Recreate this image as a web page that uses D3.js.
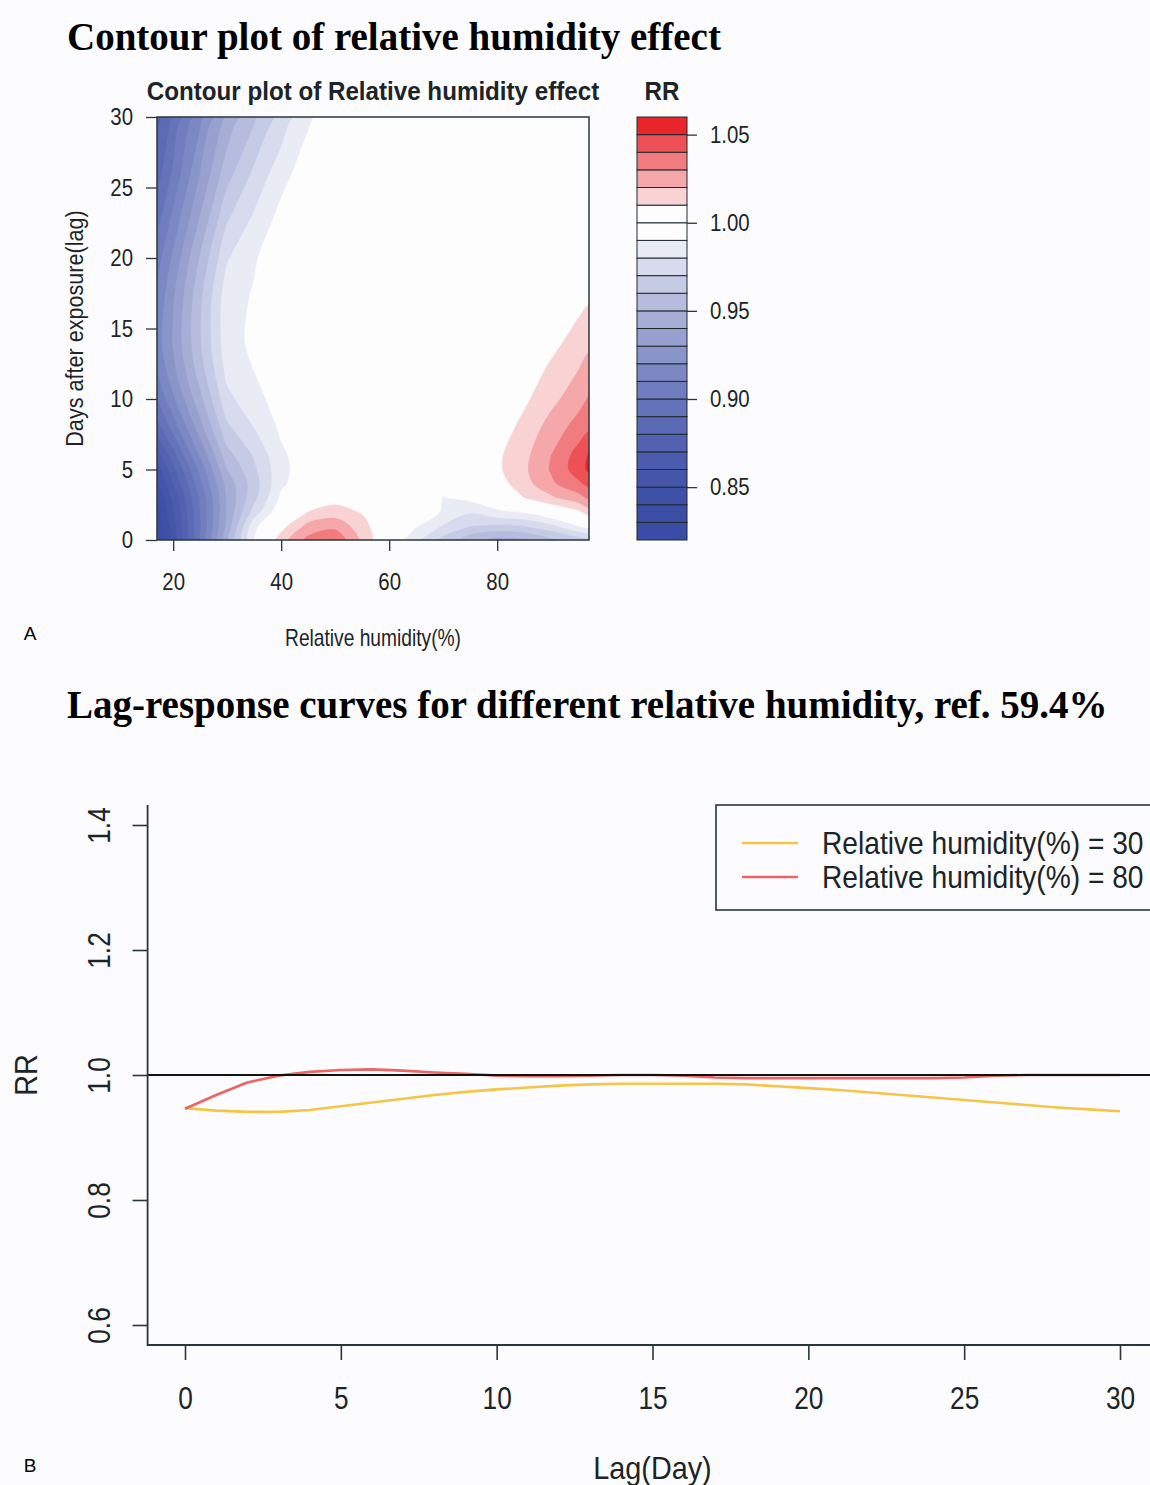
<!DOCTYPE html>
<html>
<head>
<meta charset="utf-8">
<title>Relative humidity effect</title>
<script src="https://cdn.jsdelivr.net/npm/d3@7"></script>
<style>
  html, body { margin: 0; padding: 0; background: #fcfcfe; }
  svg { display: block; }
</style>
</head>
<body>
<svg id="figure" width="1150" height="1485"></svg>
<script>
// ---------------------------------------------------------------
// Panel A: exposure–lag surface of relative risk (RR)
// rows follow lagGrid, columns follow humidity
// ---------------------------------------------------------------
const humidity = [17, 20, 25, 30, 35, 40, 45, 50, 55, 60, 65, 70, 75, 80, 85, 90, 95, 97];
const lagGrid  = [0, 1, 2, 3, 4, 5, 6, 8, 10, 12, 14, 17, 20, 23, 26, 30];
const rrSurface = [
  [0.825, 0.852, 0.898, 0.947, 0.990, 1.015, 1.033, 1.038, 1.017, 0.998, 0.981, 0.966, 0.953, 0.946, 0.948, 0.957, 0.964, 0.966],
  [0.830, 0.856, 0.899, 0.943, 0.987, 1.006, 1.023, 1.027, 1.014, 0.999, 0.991, 0.979, 0.970, 0.968, 0.970, 0.977, 0.990, 0.993],
  [0.835, 0.859, 0.900, 0.941, 0.974, 0.998, 1.010, 1.014, 1.009, 1.000, 0.997, 0.989, 0.981, 0.988, 0.991, 1.000, 1.008, 1.015],
  [0.840, 0.863, 0.902, 0.941, 0.967, 0.992, 1.002, 1.006, 1.004, 1.000, 0.999, 0.9895, 0.993, 0.999, 1.010, 1.018, 1.026, 1.032],
  [0.848, 0.870, 0.907, 0.944, 0.965, 0.988, 0.997, 1.002, 1.002, 1.000, 1.000, 0.996, 0.999, 1.005, 1.016, 1.028, 1.038, 1.043],
  [0.855, 0.877, 0.913, 0.950, 0.968, 0.987, 0.996, 0.999, 1.000, 1.000, 1.000, 1.000, 1.002, 1.008, 1.018, 1.031, 1.045, 1.052],
  [0.865, 0.886, 0.921, 0.956, 0.971, 0.988, 0.996, 0.999, 1.000, 1.000, 1.000, 1.000, 1.002, 1.008, 1.017, 1.030, 1.044, 1.051],
  [0.885, 0.904, 0.936, 0.968, 0.980, 0.992, 0.997, 0.999, 1.000, 1.000, 1.000, 1.000, 1.001, 1.004, 1.013, 1.024, 1.034, 1.038],
  [0.900, 0.918, 0.947, 0.977, 0.987, 0.994, 0.998, 1.000, 1.000, 1.000, 1.000, 1.000, 1.000, 0.999, 1.008, 1.017, 1.026, 1.031],
  [0.910, 0.927, 0.955, 0.983, 0.990, 0.996, 0.999, 1.000, 1.000, 1.000, 1.000, 1.000, 1.000, 0.998, 1.004, 1.012, 1.020, 1.024],
  [0.915, 0.931, 0.959, 0.986, 0.992, 0.997, 1.000, 1.000, 1.000, 1.000, 1.000, 1.000, 0.999, 0.999, 1.002, 1.007, 1.014, 1.018],
  [0.912, 0.929, 0.958, 0.986, 0.991, 0.997, 1.000, 1.000, 1.000, 1.000, 1.000, 0.999, 0.998, 0.996, 0.999, 1.003, 1.007, 1.009],
  [0.905, 0.922, 0.951, 0.979, 0.989, 0.996, 0.999, 1.000, 1.000, 1.000, 1.000, 0.999, 0.997, 0.995, 0.997, 1.000, 1.003, 1.004],
  [0.895, 0.912, 0.940, 0.968, 0.981, 0.993, 0.998, 1.000, 1.000, 1.000, 1.000, 0.999, 0.997, 0.995, 0.997, 0.999, 1.001, 1.001],
  [0.885, 0.902, 0.930, 0.956, 0.972, 0.986, 0.996, 0.999, 1.000, 1.000, 1.000, 1.000, 0.999, 0.999, 0.999, 1.000, 1.000, 1.000],
  [0.875, 0.891, 0.917, 0.942, 0.958, 0.973, 0.988, 0.996, 0.999, 1.000, 1.000, 1.000, 1.000, 1.000, 1.000, 1.000, 1.000, 1.000]
];
// RR levels separating the filled bands
const rrLevels = [0.82, 0.83, 0.84, 0.85, 0.86, 0.87, 0.88, 0.89, 0.90, 0.91, 0.92, 0.93,
                  0.94, 0.95, 0.96, 0.97, 0.98, 0.99, 1.00, 1.01, 1.02, 1.03, 1.04, 1.05, 1.06];
const keyTicks = [0.85, 0.90, 0.95, 1.00, 1.05];
const humidityTicks = [20, 40, 60, 80];
const lagTicksA = [0, 5, 10, 15, 20, 25, 30];

// ---------------------------------------------------------------
// Panel B: lag-response curves, reference humidity 59.4%
// ---------------------------------------------------------------
const lagDays = [0, 1, 2, 3, 4, 5, 6, 7, 8, 9, 10, 11, 12, 13, 14, 15,
                 16, 17, 18, 19, 20, 21, 22, 23, 24, 25, 26, 27, 28, 29, 30];
const rrHumidity30 = [0.947, 0.943, 0.941, 0.941, 0.944, 0.950, 0.956, 0.962, 0.968, 0.973, 0.977,
                      0.980, 0.983, 0.985, 0.986, 0.986, 0.986, 0.986, 0.985, 0.982, 0.979, 0.976,
                      0.972, 0.968, 0.964, 0.960, 0.956, 0.952, 0.948, 0.945, 0.942];
const rrHumidity80 = [0.946, 0.968, 0.988, 0.999, 1.005, 1.008, 1.009, 1.007, 1.004, 1.002, 0.999,
                      0.998, 0.998, 0.999, 1.000, 1.000, 0.999, 0.996, 0.995, 0.995, 0.995, 0.995,
                      0.995, 0.995, 0.995, 0.996, 0.999, 1.000, 1.000, 1.000, 1.000];
const seriesLabels = ['Relative humidity(%) = 30', 'Relative humidity(%) = 80'];
const lagTicksB = [0, 5, 10, 15, 20, 25, 30];
const rrTicksB = [0.6, 0.8, 1.0, 1.2, 1.4];

// ---------------------------------------------------------------
const SANS = "'Liberation Sans', Arial, Helvetica, sans-serif";
const SERIF = "'Liberation Serif', 'Times New Roman', Times, serif";
const INK = '#1c2427';
const AXIS = '#2a363b';
const svg = d3.select('#figure');

function addText(parent, str, x, y, o = {}) {
  return parent.append('text')
    .attr('transform', `translate(${x},${y}) rotate(${o.rot || 0}) scale(${o.sx || 1},1)`)
    .attr('text-anchor', o.anchor || 'middle')
    .attr('font-family', o.family || SANS)
    .attr('font-size', o.size || 16)
    .attr('font-weight', o.weight || 'normal')
    .attr('fill', o.fill || INK)
    .text(str);
}

function styleTicks(g, size, lineW) {
  g.select('.domain').remove();
  g.selectAll('.tick line').attr('stroke', AXIS).attr('stroke-width', lineW);
  g.selectAll('.tick text')
    .attr('font-family', SANS).attr('font-size', size).attr('fill', INK);
}

// ======================= Panel A =======================
addText(svg, 'Contour plot of relative humidity effect', 67, 50,
  { family: SERIF, size: 39, weight: 'bold', anchor: 'start', fill: '#000' });

const xA = d3.scaleLinear().domain([humidity[0], humidity[humidity.length - 1]]).range([157, 589]);
const yA = d3.scaleLinear().domain([lagGrid[0], lagGrid[lagGrid.length - 1]]).range([540, 117]);
const [ax0, ax1] = xA.range();   // left, right
const [ayB, ayT] = yA.range();   // bottom, top

addText(svg, 'Contour plot of Relative humidity effect', (ax0 + ax1) / 2, 100,
  { size: 26, weight: 'bold', sx: 0.93 });

// band colours: blue→white below RR = 1, white→red above
const nBelow = rrLevels.filter(v => v < 1).length;
const nAbove = rrLevels.filter(v => v > 1).length;
const blueRamp = d3.interpolateRgb('#3a4ca5', '#fdfdfe');
const redRamp = d3.interpolateRgb('#fdfdfe', '#e9262c');
const bandColors = [
  ...d3.range(nBelow).map(i => blueRamp(Math.pow(i / (nBelow - 1), 1.7))),
  ...d3.range(nAbove).map(i => redRamp(i / (nAbove - 1)))
];
const bandColor = d3.scaleThreshold().domain(rrLevels.slice(1, -1)).range(bandColors);

// grid index → data coordinates (grid samples sit at index + 0.5)
const nx = humidity.length, ny = lagGrid.length;
const gx = d3.scaleLinear().domain(humidity.map((_, i) => i + 0.5)).range(humidity).clamp(true);
const gy = d3.scaleLinear().domain(lagGrid.map((_, i) => i + 0.5)).range(lagGrid).clamp(true);

const bands = d3.contours()
  .size([nx, ny])
  .thresholds(rrLevels.slice(0, -1))(rrSurface.flat());

// rings are drawn as smooth closed curves; points on the frame are doubled
// so that the curve keeps to the frame there
const ringCurve = d3.line().curve(d3.curveCatmullRomClosed.alpha(0.5));
function bandPath(geom) {
  let d = '';
  geom.coordinates.forEach(polygon => polygon.forEach(ring => {
    const pts = [];
    ring.slice(0, -1).forEach(([x, y]) => {
      const p = [xA(gx(x)), yA(gy(y))];
      pts.push(p);
      if (x <= 0 || x >= nx || y <= 0 || y >= ny) pts.push([p[0], p[1]]);
    });
    if (pts.length > 2) d += ringCurve(pts);
  }));
  return d;
}

svg.append('clipPath').attr('id', 'clipA').append('rect')
  .attr('x', ax0).attr('y', ayT).attr('width', ax1 - ax0).attr('height', ayB - ayT);

const bandLayer = svg.append('g').attr('clip-path', 'url(#clipA)');
bandLayer.append('rect')
  .attr('x', ax0).attr('y', ayT).attr('width', ax1 - ax0).attr('height', ayB - ayT)
  .attr('fill', bandColor(bands[0].value + 1e-9));
bandLayer.selectAll('path').data(bands.slice(1)).join('path')
  .attr('d', bandPath)
  .attr('fill', d => bandColor(d.value + 1e-9))
  .attr('fill-rule', 'evenodd')
  .attr('stroke', d => bandColor(d.value + 1e-9))
  .attr('stroke-width', 0.5);

// plot box
svg.append('rect')
  .attr('x', ax0).attr('y', ayT).attr('width', ax1 - ax0).attr('height', ayB - ayT)
  .attr('fill', 'none').attr('stroke', AXIS).attr('stroke-width', 1.5);

// axes
const sxA = 0.85;
const axAy = svg.append('g').attr('transform', `translate(${ax0},0)`)
  .call(d3.axisLeft(yA).tickValues(lagTicksA).tickSize(11).tickPadding(13).tickFormat(d3.format('d')));
styleTicks(axAy, 24, 1.3);
axAy.selectAll('.tick text').attr('x', -24 / sxA).attr('transform', `scale(${sxA},1)`);

const axAx = svg.append('g').attr('transform', `translate(0,${ayB})`)
  .call(d3.axisBottom(xA).tickValues(humidityTicks).tickSize(11).tickPadding(22).tickFormat(d3.format('d')));
styleTicks(axAx, 24, 1.3);
axAx.selectAll('.tick text').attr('transform', `scale(${sxA},1)`);

addText(svg, 'Relative humidity(%)', (ax0 + ax1) / 2, 646, { size: 24, sx: 0.8 });
addText(svg, 'Days after exposure(lag)', 83, (ayB + ayT) / 2, { size: 24, sx: 0.9, rot: -90 });
addText(svg, 'A', 30, 640, { size: 19, fill: '#000' });

// colour key
const keyX = 637, keyW = 50;
const yKey = d3.scaleLinear().domain([rrLevels[0], rrLevels[rrLevels.length - 1]]).range([540, 117]);
svg.append('g').selectAll('rect').data(rrLevels.slice(0, -1)).join('rect')
  .attr('x', keyX).attr('width', keyW)
  .attr('y', (d, i) => yKey(rrLevels[i + 1]))
  .attr('height', (d, i) => yKey(d) - yKey(rrLevels[i + 1]))
  .attr('fill', d => bandColor(d + 1e-9))
  .attr('stroke', '#1f2a2e').attr('stroke-width', 1);

const axKey = svg.append('g').attr('transform', `translate(${keyX + keyW},0)`)
  .call(d3.axisRight(yKey).tickValues(keyTicks).tickSize(10).tickPadding(13).tickFormat(d3.format('.2f')));
styleTicks(axKey, 24, 1.3);
axKey.selectAll('.tick text').attr('x', 23 / sxA).attr('transform', `scale(${sxA},1)`);

addText(svg, 'RR', keyX + keyW / 2, 100, { size: 26, weight: 'bold', sx: 0.93 });

// ======================= Panel B =======================
addText(svg, 'Lag-response curves for different relative humidity, ref. 59.4%', 67, 718,
  { family: SERIF, size: 39, weight: 'bold', anchor: 'start', fill: '#000' });

const xB = d3.scaleLinear().domain([lagTicksB[0], lagTicksB[lagTicksB.length - 1]]).range([185, 1120]);
const yB = d3.scaleLinear().domain([rrTicksB[0], rrTicksB[rrTicksB.length - 1]]).range([1325, 825]);
// plotting region extends 4% beyond the data range on each side
const xSpan = xB.domain()[1] - xB.domain()[0], ySpan = yB.domain()[1] - yB.domain()[0];
const bLeft = xB(xB.domain()[0] - 0.04 * xSpan), bRight = xB(xB.domain()[1] + 0.04 * xSpan);
const bBottom = yB(yB.domain()[0] - 0.04 * ySpan), bTop = yB(yB.domain()[1] + 0.04 * ySpan);

const line = d3.line().x((d, i) => xB(lagDays[i])).y(d => yB(d));
const curveColors = ['#f6c547', '#ee6363'];

svg.append('path').datum(rrHumidity30).attr('d', line)
  .attr('fill', 'none').attr('stroke', curveColors[0]).attr('stroke-width', 2.6).attr('stroke-linejoin', 'round');
svg.append('path').datum(rrHumidity80).attr('d', line)
  .attr('fill', 'none').attr('stroke', curveColors[1]).attr('stroke-width', 2.6).attr('stroke-linejoin', 'round');

// reference line RR = 1
svg.append('line')
  .attr('x1', bLeft).attr('x2', bRight).attr('y1', yB(1)).attr('y2', yB(1))
  .attr('stroke', '#111').attr('stroke-width', 2);

// L-shaped frame
svg.append('path')
  .attr('d', `M${bLeft},${bTop}V${bBottom}H${bRight}`)
  .attr('fill', 'none').attr('stroke', AXIS).attr('stroke-width', 1.8);

const sxB = 0.82;
const axBx = svg.append('g').attr('transform', `translate(0,${bBottom})`)
  .call(d3.axisBottom(xB).tickValues(lagTicksB).tickSize(15).tickPadding(26).tickFormat(d3.format('d')));
styleTicks(axBx, 32, 1.6);
axBx.selectAll('.tick text').attr('transform', `scale(${sxB},1)`);

const axBy = svg.append('g').attr('transform', `translate(${bLeft},0)`)
  .call(d3.axisLeft(yB).tickValues(rrTicksB).tickSize(15).tickFormat(d3.format('.1f')));
styleTicks(axBy, 32, 1.6);
axBy.selectAll('.tick text')
  .attr('x', 0).attr('y', 0).attr('dy', null)
  .attr('text-anchor', 'middle')
  .attr('transform', `translate(-38,0) rotate(-90) scale(${sxB},1)`);

addText(svg, 'Lag(Day)', (xB(0) + xB(30)) / 2, 1479, { size: 32, sx: 0.9 });
addText(svg, 'RR', 37, yB(1), { size: 32, sx: 0.9, rot: -90 });
addText(svg, 'B', 30, 1472, { size: 19, fill: '#000' });

// legend
const legend = svg.append('g');
legend.append('rect')
  .attr('x', 716).attr('y', bTop).attr('width', 470).attr('height', 105)
  .attr('fill', 'none').attr('stroke', AXIS).attr('stroke-width', 1.6);
seriesLabels.forEach((label, i) => {
  const yy = 843 + i * 34;
  legend.append('line').attr('x1', 742).attr('x2', 798).attr('y1', yy).attr('y2', yy)
    .attr('stroke', curveColors[i]).attr('stroke-width', 2.6);
  addText(legend, label, 822, yy + 11, { size: 32, sx: 0.88, anchor: 'start' });
});
</script>
</body>
</html>
